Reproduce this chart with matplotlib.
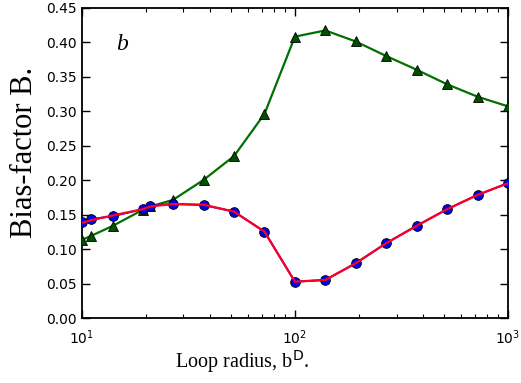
import matplotlib
matplotlib.use('Agg')
import matplotlib.pyplot as plt
import numpy as np

# Loop radius values (log scale)
radius = [10, 11, 14, 19.3, 21, 26.8, 37.3, 51.8, 72, 100, 139, 193, 268, 373, 518, 720, 1000]

# bias factor curves
bias_circles = [0.139, 0.1435, 0.148, 0.158, 0.163, 0.1657, 0.164, 0.1545, 0.1255, 0.053,
                0.0555, 0.0797, 0.1087, 0.134, 0.158, 0.1787, 0.1957]
bias_fit = [0.138, 0.142, 0.149, 0.158, 0.162, 0.1655, 0.1645, 0.1545, 0.1255, 0.053,
            0.0555, 0.0797, 0.1087, 0.134, 0.158, 0.1787, 0.1957]
bias_triangles = [0.1135, 0.119, 0.134, 0.157, 0.162, 0.1715, 0.2005, 0.235, 0.296, 0.408,
                  0.417, 0.401, 0.380, 0.360, 0.339, 0.321, 0.307]

fig = plt.figure(figsize=(5.21, 3.83), dpi=100)
ax = fig.add_axes([0.157, 0.169, 0.818, 0.811])

ax.plot(radius, bias_triangles, color='#007000', lw=1.6, marker='^', ms=7.5,
        mfc='#005000', mec='black', mew=0.6, zorder=3)
ax.plot(radius, bias_circles, color='#0000ff', lw=1.4, marker='o', ms=7,
        mfc='#0000ee', mec='black', mew=0.6, zorder=3)
ax.plot(radius, bias_fit, color='#ff0022', lw=1.6, zorder=4)

ax.set_xscale('log')
ax.set_xlim(10, 1000)
ax.set_ylim(0, 0.45)
ax.set_yticks(np.arange(0, 0.451, 0.05))
ax.yaxis.set_major_formatter(matplotlib.ticker.FormatStrFormatter('%.2f'))

ax.tick_params(which='both', direction='in', top=True, right=True, labelsize=10)
ax.tick_params(which='major', length=6, width=1)
ax.tick_params(which='minor', length=3, width=0.8)
ax.tick_params(axis='x', pad=7)
for s in ax.spines.values():
    s.set_linewidth(1.3)

ax.text(15.5, 0.397, 'b', fontsize=17, fontstyle='italic', family='Liberation Serif',
        va='center', ha='center')

fig.text(25 / 521, 1 - 152 / 383, 'Bias-factor B.', rotation=90, fontsize=22,
         family='Liberation Serif', ha='center', va='center')
fig.text(242 / 521, 1 - 362 / 383, r'Loop radius, b$^{\mathrm{D}}$.', fontsize=14.5,
         family='Liberation Serif', ha='center', va='center')

plt.savefig('out.png', dpi=100)
